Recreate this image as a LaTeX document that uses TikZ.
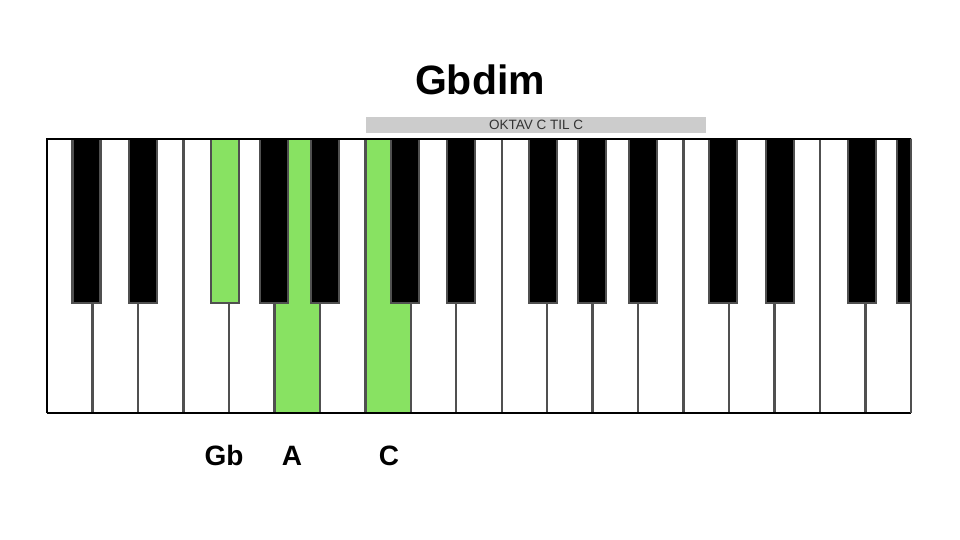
\documentclass[tikz,border=0pt]{standalone}
\usepackage{fontspec}
\setmainfont{Liberation Sans}
\begin{document}
\begin{tikzpicture}[x=1pt,y=-1pt,
  whitekey/.style={fill=white},
  greenkey/.style={fill=keygreen},
  sep/.style={draw=keygray,line width=2.4pt},
  blackkey/.style={fill=black,draw=keygray,line width=2.2pt},
  blackgreen/.style={fill=keygreen,draw=keygray,line width=2.2pt},
  label/.style={font=\fontsize{28}{32}\selectfont\bfseries,text=black,anchor=base,inner sep=0pt},
]
\definecolor{keygreen}{RGB}{136,226,98}
\definecolor{keygray}{RGB}{80,80,80}
\definecolor{bargray}{RGB}{204,204,204}
\useasboundingbox (0,0) rectangle (960,540);
\def\kw{45.474}
% white background and green white keys
\fill[whitekey] (47,139) rectangle (911,413);
\fill[greenkey] (275.4,139) rectangle (320.8,413);
\fill[greenkey] (366.3,139) rectangle (411.8,413);
% separators
\foreach \i in {1,...,18}{
  \draw[sep] ({47+\i*\kw},139) -- ({47+\i*\kw},413);
}
% black keys
\begin{scope}
\clip (47,139) rectangle (911,413);
\foreach \o in {0,1,2}{
  \foreach \off in {25.5,82,164,213,264}{
    \pgfmathsetmacro{\bx}{47+\o*7*\kw+\off}
    \ifnum\o=0 \ifdim\off pt=164pt
      \draw[blackgreen] (\bx,138) rectangle ({\bx+28},303);
    \else
      \draw[blackkey] (\bx,138) rectangle ({\bx+28},303);
    \fi
    \else
      \draw[blackkey] (\bx,138) rectangle ({\bx+28},303);
    \fi
  }
}
\end{scope}
% outer border
\draw[black,line width=1.6pt] (47,413) -- (47,139) -- (911,139);
\draw[black,line width=2.2pt] (47,413) -- (911,413);
\draw[keygray,line width=1.6pt] (911,139) -- (911,413);
% title and bar
\node[font=\fontsize{41}{46}\selectfont\bfseries,anchor=base,inner sep=0pt] (title) at (480,95) {Gbdim};
\fill[bargray] (366,117) rectangle (706,133);
\node[font=\fontsize{13.5}{15}\selectfont,text=black!80,anchor=base,inner sep=0pt] (bar) at (536,130) {OKTAV C TIL C};
% labels
\node[label] (lgb) at (224,465) {Gb};
\node[label] (la) at (292,465) {A};
\node[label] (lc) at (389,465) {C};
\end{tikzpicture}
\end{document}
